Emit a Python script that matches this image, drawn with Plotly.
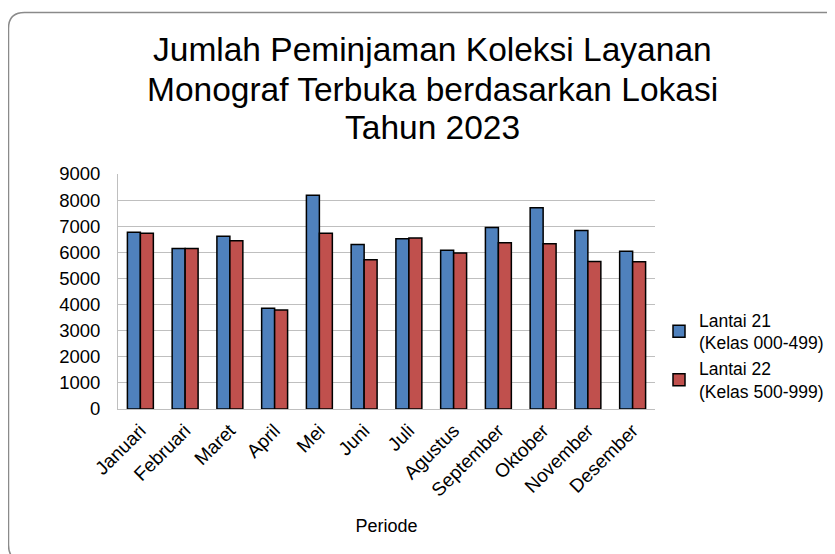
import plotly.graph_objects as go

months = ["Januari", "Februari", "Maret", "April", "Mei", "Juni", "Juli",
          "Agustus", "September", "Oktober", "November", "Desember"]
lantai21 = [6770, 6150, 6620, 3860, 8190, 6300, 6520, 6080, 6950, 7710, 6840, 6040]
lantai22 = [6730, 6150, 6440, 3790, 6730, 5720, 6550, 5970, 6370, 6330, 5650, 5640]
series_names = ["Lantai 21<br>(Kelas 000-499)", "Lantai 22<br>(Kelas 500-999)"]
title_lines = ["Jumlah Peminjaman Koleksi Layanan",
               "Monograf Terbuka berdasarkan Lokasi",
               "Tahun 2023"]

OFF = 8  # page body margin
W, H = 835 - OFF, 554 - OFF
# plot area in page pixels
PX0, PX1, PY0, PY1 = 118, 655, 174, 409
L, R = PX0 - OFF, W - (PX1 - OFF)
T, B = PY0 - OFF, H - (PY1 - OFF)
PW, PH = PX1 - PX0, PY1 - PY0

def px(x):
    return (x - PX0) / PW

def py(y):
    return (PY1 - y) / PH

FONT = "Liberation Sans, Arial, sans-serif"

fig = go.Figure()
fig.add_trace(go.Bar(x=months, y=lantai21, name=series_names[0],
                     marker=dict(color="#4F81BD", line=dict(color="#000000", width=1.5))))
fig.add_trace(go.Bar(x=months, y=lantai22, name=series_names[1],
                     marker=dict(color="#C0504D", line=dict(color="#000000", width=1.5))))

# rounded frame of the slide chart
xl, xr = px(8.5), px(845)
yt, yb = py(12.5), py(561)
rx, ry = 16 / PW, 16 / PH
path = (f"M {xr},{yb} L {xl+rx},{yb} Q {xl},{yb} {xl},{yb+ry} "
        f"L {xl},{yt-ry} Q {xl},{yt} {xl+rx},{yt} L {xr},{yt}")
fig.add_shape(type="path", path=path, xref="paper", yref="paper",
              line=dict(color="#8a8a8a", width=1.5), layer="below")

for line, yc in zip(title_lines, [49, 89, 128]):
    fig.add_annotation(text=line, x=px(432.5), y=py(yc), xref="paper", yref="paper",
                       xanchor="center", yanchor="middle", showarrow=False,
                       font=dict(size=33.5, family=FONT, color="#000000"))

fig.update_layout(
    width=W, height=H,
    margin=dict(l=L, r=R, t=T, b=B, autoexpand=False),
    paper_bgcolor="white", plot_bgcolor="white",
    barmode="group", bargap=0.42, bargroupgap=0,
    font=dict(family=FONT, color="#000000"),
    legend=dict(x=px(659), y=py(302), xanchor="left", yanchor="top",
                font=dict(size=17.5, family=FONT),
                itemwidth=30, bgcolor="rgba(0,0,0,0)"),
    showlegend=True,
)
fig.update_yaxes(range=[0, 9000], dtick=1000, showgrid=True, gridcolor="#BFBFBF", gridwidth=1,
                 showline=True, linecolor="#BFBFBF", linewidth=1, ticks="", automargin=False,
                 tickfont=dict(size=18.5, family=FONT), ticklabelstandoff=13, zeroline=False)
fig.update_xaxes(showline=True, linecolor="#BFBFBF", linewidth=1, ticks="", automargin=False,
                 tickangle=-45, tickfont=dict(size=19, family=FONT), ticklabelstandoff=2,
                 title=dict(text="Periode", font=dict(size=18, family=FONT), standoff=19))

fig.write_html("out.html")
